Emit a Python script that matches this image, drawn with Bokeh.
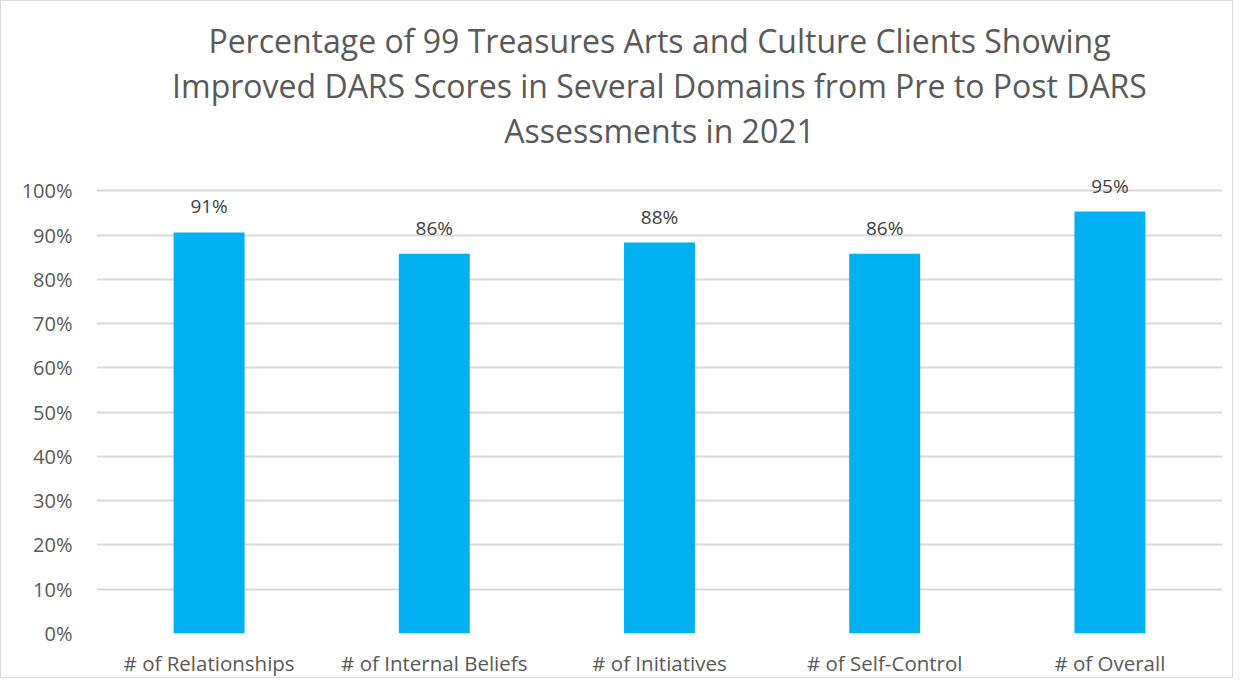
from bokeh.plotting import figure
from bokeh.models import FactorRange, Range1d, FixedTicker, ColumnDataSource, Title, NumeralTickFormatter
from bokeh.core.properties import value
from bokeh.embed import file_html
from bokeh.resources import INLINE

categories = ["# of Relationships", "# of Internal Beliefs", "# of Initiatives", "# of Self-Control", "# of Overall"]
values = [0.906, 0.858, 0.883, 0.858, 0.953]
labels = ["91%", "86%", "88%", "86%", "95%"]
y_ticks = [0.0, 0.1, 0.2, 0.3, 0.4, 0.5, 0.6, 0.7, 0.8, 0.9, 1.0]
title_lines = [
    "Percentage of 99 Treasures Arts and Culture Clients Showing",
    "Improved DARS Scores in Several Domains from Pre to Post DARS",
    "Assessments in 2021",
]

FONT = "Open Sans"
src = ColumnDataSource(dict(cat=categories, val=values, lab=labels))

p = figure(width=1233, height=678, output_backend="svg", toolbar_location=None, title=None,
           x_range=FactorRange(*categories, range_padding=0), y_range=Range1d(0, 1.03),
           min_border_left=95, min_border_right=12, min_border_top=176, min_border_bottom=43,
           styles={"border": "1px solid #d9d9d9"})
p.outline_line_color = None
p.background_fill_color = "white"
p.border_fill_color = "white"

p.vbar(x="cat", top="val", width=0.315, source=src, color="#00B0F0", line_color=None)
p.text(x="cat", y="val", text="lab", source=src, text_align="center", text_baseline="alphabetic",
       y_offset=-26, text_font=value(FONT), text_font_size="19px", text_color="#404040")

p.yaxis.ticker = FixedTicker(ticks=y_ticks)
p.yaxis.formatter = NumeralTickFormatter(format="0%")
for ax in (p.xaxis, p.yaxis):
    ax.axis_line_color = None
    ax.major_tick_line_color = None
    ax.minor_tick_line_color = None
    ax.major_label_text_font = FONT
    ax.major_label_text_color = "#595959"
p.yaxis.major_label_text_font_size = "20px"
p.xaxis.major_label_text_font_size = "20.5px"
p.xaxis.major_label_standoff = 9
p.yaxis.major_label_standoff = 18

p.xgrid.grid_line_color = None
p.ygrid.ticker = FixedTicker(ticks=y_ticks)
p.ygrid.grid_line_color = "#d9d9d9"
p.ygrid.grid_line_width = 2

# spacer between the plot area and the title block
p.add_layout(Title(text=" ", text_font=FONT, text_font_size="18px", standoff=0), "above")
for txt in reversed(title_lines):
    p.add_layout(Title(text=txt, align="center", text_font=FONT, text_font_size="32px",
                       text_font_style="normal", text_color="#595959", standoff=0), "above")

open("out.html", "w").write(file_html(p, INLINE))
